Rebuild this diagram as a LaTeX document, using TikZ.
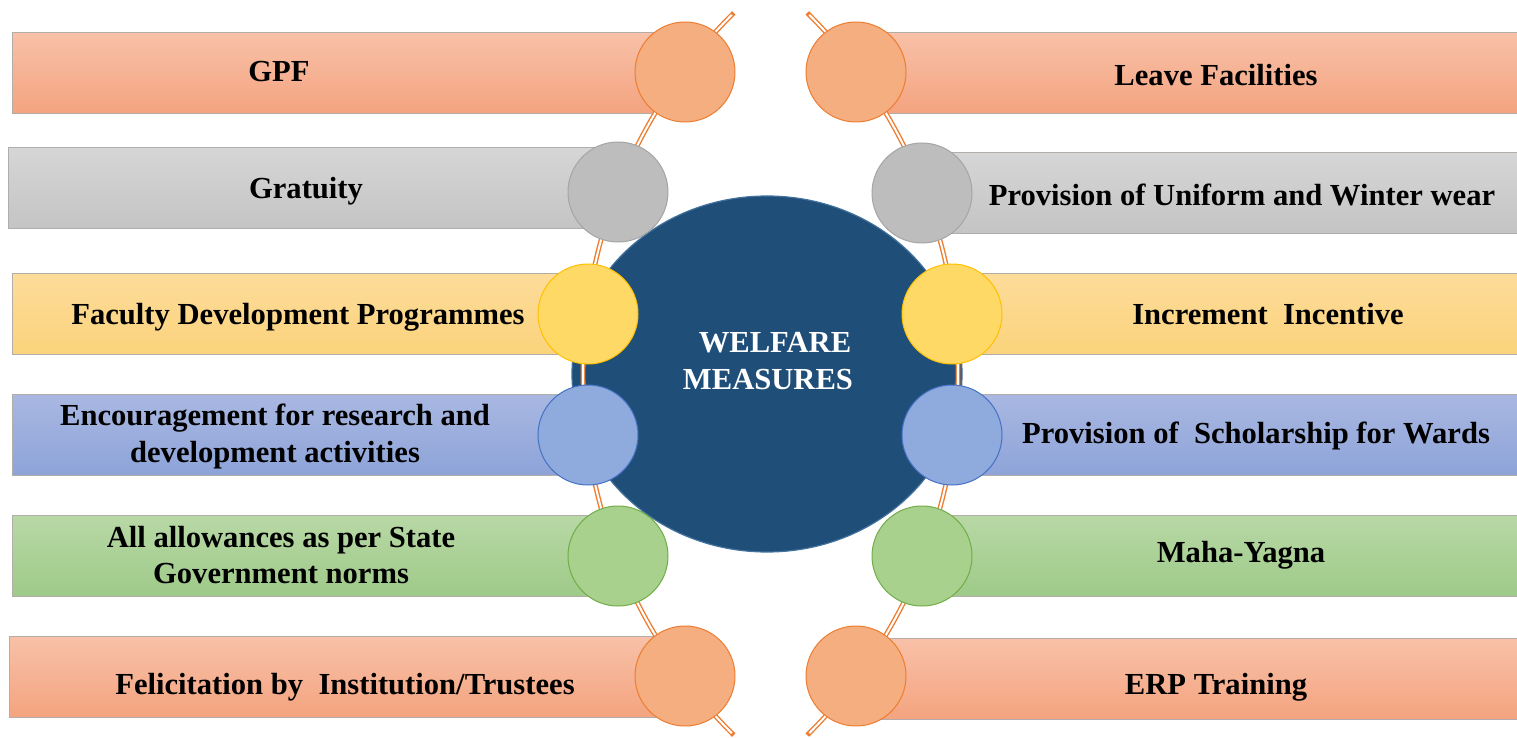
\documentclass[tikz,border=0pt]{standalone}
\usepackage{fontspec}
\setmainfont{Liberation Serif}
\usetikzlibrary{shapes.geometric}
\definecolor{orT}{HTML}{F8C1A8}
\definecolor{orB}{HTML}{F4A37F}
\definecolor{orC}{HTML}{F4AE80}
\definecolor{orD}{HTML}{ED7D31}
\definecolor{grT}{HTML}{D6D6D6}
\definecolor{grB}{HTML}{C4C4C4}
\definecolor{grC}{HTML}{BDBDBD}
\definecolor{grD}{HTML}{A5A5A5}
\definecolor{yeT}{HTML}{FDDC9A}
\definecolor{yeB}{HTML}{FBD37C}
\definecolor{yeC}{HTML}{FFD966}
\definecolor{yeD}{HTML}{FFC000}
\definecolor{blT}{HTML}{A9B8E2}
\definecolor{blB}{HTML}{8DA3D8}
\definecolor{blC}{HTML}{8FAADC}
\definecolor{blD}{HTML}{4472C4}
\definecolor{gnT}{HTML}{B8D8A6}
\definecolor{gnB}{HTML}{9ECA88}
\definecolor{gnC}{HTML}{A9D18E}
\definecolor{gnD}{HTML}{70AD47}
\definecolor{hubF}{HTML}{1F4E79}
\definecolor{hubD}{HTML}{41719C}
\definecolor{barD}{HTML}{B3ADA9}
\begin{document}
\begin{tikzpicture}[x=1pt,y=-1pt,
  bar/.style={rectangle, draw=barD, line width=1.3pt, inner sep=0pt, anchor=north west, minimum height=81pt},
  orbar/.style={bar, top color=orT, bottom color=orB},
  grbar/.style={bar, top color=grT, bottom color=grB},
  yebar/.style={bar, top color=yeT, bottom color=yeB},
  blbar/.style={bar, top color=blT, bottom color=blB},
  gnbar/.style={bar, top color=gnT, bottom color=gnB},
  dot/.style={circle, minimum size=100pt, inner sep=0pt, line width=1pt},
  ordot/.style={dot, fill=orC, draw=orD},
  grdot/.style={dot, fill=grC, draw=grD},
  yedot/.style={dot, fill=yeC, draw=yeD},
  bldot/.style={dot, fill=blC, draw=blD},
  gndot/.style={dot, fill=gnC, draw=gnD},
  lbl/.style={font=\fontsize{30.6}{37}\selectfont\bfseries, align=center, anchor=base, inner sep=0pt},
  hubtxt/.style={lbl, text=white},
  rail/.style={draw=orD, line width=4.8pt},
  railin/.style={draw=white, line width=2pt}
]
\useasboundingbox (0,0) rectangle (1517,738);
% left bars
\node[orbar, minimum width=673pt] (lb1) at (12,32) {};
\node[grbar, minimum width=610pt] (lb2) at (8,147) {};
\node[yebar, minimum width=576pt] (lb3) at (12,273) {};
\node[blbar, minimum width=576pt] (lb4) at (12,394) {};
\node[gnbar, minimum width=606pt] (lb5) at (12,515) {};
\node[orbar, minimum width=676pt] (lb6) at (9,636) {};
% right bars
\node[orbar, minimum width=662pt] (rb1) at (856,32) {};
\node[grbar, minimum width=596pt] (rb2) at (922,152) {};
\node[yebar, minimum width=566pt] (rb3) at (952,273) {};
\node[blbar, minimum width=566pt] (rb4) at (952,394) {};
\node[gnbar, minimum width=596pt] (rb5) at (922,515) {};
\node[orbar, minimum width=662pt] (rb6) at (856,638) {};
% hub
\node[ellipse, fill=hubF, draw=hubD, line width=1.2pt, minimum width=390pt, minimum height=356pt, inner sep=0pt] (hub) at (767,374) {};
% rails
\coordinate (ltop) at (733,13);
\coordinate (lbot) at (733,735);
\coordinate (rtop) at (807,13);
\coordinate (rbot) at (807,735);
\draw[rail] plot[domain=134.7:225.3, samples=90] ({1091+508*cos(\x)},{374+508*sin(\x)});
\draw[railin] plot[domain=135.0:225.0, samples=90] ({1091+508*cos(\x)},{374+508*sin(\x)});
\draw[rail] plot[domain=-45.3:45.3, samples=90] ({450+508*cos(\x)},{374+508*sin(\x)});
\draw[railin] plot[domain=-45.0:45.0, samples=90] ({450+508*cos(\x)},{374+508*sin(\x)});
% circles
\node[ordot] (lc1) at (685,72) {};
\node[grdot] (lc2) at (618,192) {};
\node[yedot] (lc3) at (588,314) {};
\node[bldot] (lc4) at (588,435) {};
\node[gndot] (lc5) at (618,556) {};
\node[ordot] (lc6) at (685,676) {};
\node[ordot] (rc1) at (856,72) {};
\node[grdot] (rc2) at (922,193) {};
\node[yedot] (rc3) at (952,314) {};
\node[bldot] (rc4) at (952,435) {};
\node[gndot] (rc5) at (922,556) {};
\node[ordot] (rc6) at (856,676) {};
% hub text
\node[hubtxt] (h1) at (775,352) {WELFARE};
\node[hubtxt] (h2) at (768,389) {MEASURES};
% left labels
\node[lbl] (t1) at (279,82) {GPF};
\node[lbl] (t2) at (306,198) {Gratuity};
\node[lbl] (t3) at (298,324) {Faculty Development Programmes};
\node[lbl] (t4a) at (275,425) {Encouragement for research and};
\node[lbl] (t4b) at (275,462) {development activities};
\node[lbl] (t5a) at (281,547) {All allowances as per State};
\node[lbl] (t5b) at (281,583) {Government norms};
\node[lbl] (t6) at (345,694) {Felicitation by~ Institution/Trustees};
% right labels
\node[lbl] (s1) at (1216,86) {Leave Facilities};
\node[lbl] (s2) at (1242,205) {Provision of Uniform and Winter wear};
\node[lbl] (s3) at (1268,324) {Increment~ Incentive};
\node[lbl] (s4) at (1256,443) {Provision of~ Scholarship for Wards};
\node[lbl] (s5) at (1241,562) {Maha-Yagna};
\node[lbl] (s6) at (1216,694) {ERP Training};
\end{tikzpicture}
\end{document}
